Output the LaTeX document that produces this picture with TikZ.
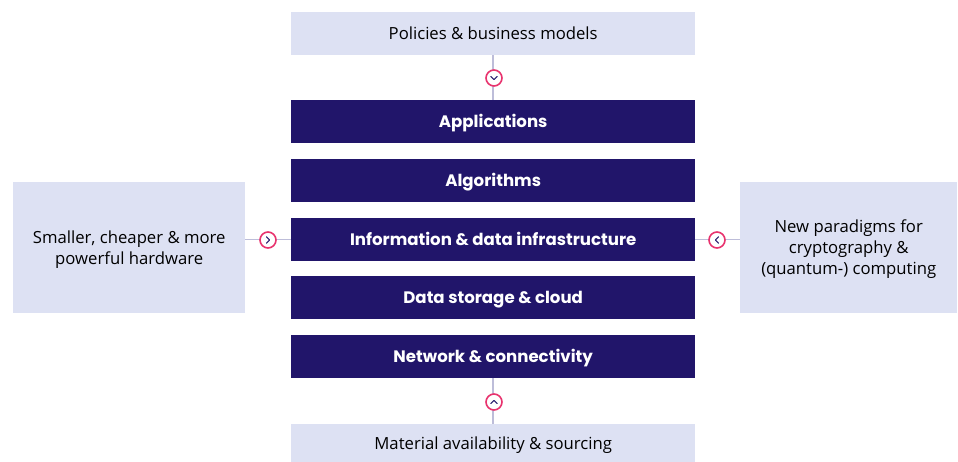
\documentclass[tikz,border=0pt]{standalone}
\usepackage{fontspec}
\setmainfont{Poppins}
\newfontfamily\lightfont{Open Sans}
\definecolor{lightbox}{HTML}{DDE1F3}
\definecolor{darkbox}{HTML}{21156A}
\definecolor{connector}{HTML}{BDBDD9}
\definecolor{pinkring}{HTML}{E8336E}
\definecolor{chevron}{HTML}{2A2070}
\begin{document}
\begin{tikzpicture}[x=1pt,y=-1pt,
  lbox/.style={fill=lightbox,draw=none,minimum width=404pt,minimum height=43pt,inner sep=0pt,
    font=\lightfont\fontsize{16.7}{19}\selectfont,text=black,anchor=north west,
    text height=11.6pt,text depth=0pt},
  sidebox/.style={fill=lightbox,draw=none,inner sep=0pt,font=\lightfont\fontsize{16.7}{20.6}\selectfont,
    text=black,anchor=north west,align=center},
  dbox/.style={fill=darkbox,draw=none,minimum width=404pt,minimum height=43pt,inner sep=0pt,
    font=\bfseries\fontsize{16.6}{19}\selectfont,text=white,anchor=north west,
    text height=11.6pt,text depth=0pt},
  ring/.style={circle,draw=pinkring,line width=1.6pt,fill=white,minimum size=16pt,inner sep=0pt},
  link/.style={draw=connector,line width=1.6pt},
  chev/.style={draw=chevron,line width=1.1pt,line cap=round,line join=round}
]
\useasboundingbox (0,0) rectangle (958,462);
\node[lbox] (pol) at (291,12) {Policies \& business models};
\node[dbox] (app) at (291,100) {Applications};
\node[dbox] (alg) at (291,159) {Algorithms};
\node[dbox] (inf) at (291,218) {Information \& data infrastructure};
\node[dbox] (sto) at (291,276) {Data storage \& cloud};
\node[dbox] (net) at (291,335) {Network \& connectivity};
\node[lbox,minimum height=38pt] (mat) at (291,424) {Material availability \& sourcing};
\node[sidebox,minimum width=232pt,minimum height=131pt,text height=33.6pt,text depth=0pt] (hw) at (13,182) {Smaller, cheaper \& more\\powerful hardware};
\node[sidebox,minimum width=217pt,minimum height=131pt,text height=53pt,text depth=0pt] (qc) at (740,182) {New paradigms for\\cryptography \&\\(quantum-) computing};
% connectors
\draw[link] (pol.south) -- (app.north);
\draw[link] (net.south) -- (mat.north);
\draw[link] (hw.east |- inf.west) -- (inf.west);
\draw[link] (inf.east) -- (qc.west |- inf.east);
% rings
\node[ring] (rt) at (494,78) {};
\node[ring] (rb) at (494,402) {};
\node[ring] (rl) at (268,240) {};
\node[ring] (rr) at (717,240) {};
\draw[chev] ([shift={(-3.2,-1.6)}]rt.center) -- ([shift={(0,1.6)}]rt.center) -- ([shift={(3.2,-1.6)}]rt.center);
\draw[chev] ([shift={(-3.2,1.6)}]rb.center) -- ([shift={(0,-1.6)}]rb.center) -- ([shift={(3.2,1.6)}]rb.center);
\draw[chev] ([shift={(-1.6,-3.2)}]rl.center) -- ([shift={(1.6,0)}]rl.center) -- ([shift={(-1.6,3.2)}]rl.center);
\draw[chev] ([shift={(1.6,-3.2)}]rr.center) -- ([shift={(-1.6,0)}]rr.center) -- ([shift={(1.6,3.2)}]rr.center);
\end{tikzpicture}
\end{document}
